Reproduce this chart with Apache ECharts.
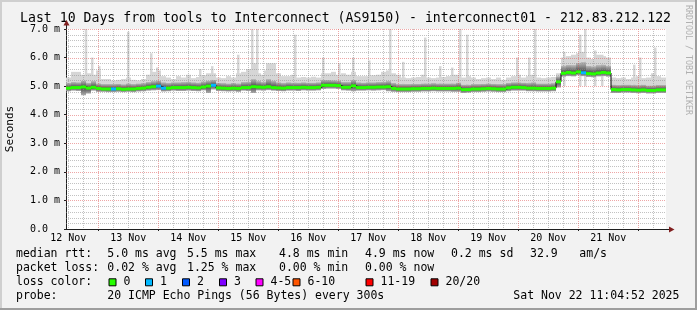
<!DOCTYPE html>
<html><head><meta charset="utf-8">
<script src="https://cdn.jsdelivr.net/npm/echarts@6/dist/echarts.min.js"></script>
<style>html,body{margin:0;padding:0;background:#f2f2f2}#c{width:697px;height:310px}</style>
</head><body><div id="c"></div>
<script>
// ---- data (hours since Nov 12 11:04:52, 2-hour buckets) ----
const bucketHours = 2;
const dayLabels = ['12 Nov','13 Nov','14 Nov','15 Nov','16 Nov','17 Nov','18 Nov','19 Nov','20 Nov','21 Nov'];
const labelHours = [0.92,24.92,48.92,72.92,96.92,120.92,144.92,168.92,192.92,216.92];
const midnightHours = [12.92,36.92,60.92,84.92,108.92,132.92,156.92,180.92,204.92,228.92];
const yTicks = [0,1,2,3,4,5,6,7];

const medianRtt = [
 4.93,4.95,4.95,4.97,4.93,4.96,4.92,4.90,4.90,4.90,
 4.91,4.89,4.90,4.90,4.92,4.93,4.96,4.98,5.00,4.93,
 4.93,4.95,4.95,4.95,4.96,4.95,4.94,4.97,5.00,5.03,
 4.94,4.93,4.92,4.93,4.92,4.95,4.95,4.98,4.97,4.96,
 4.98,4.95,4.94,4.93,4.95,4.95,4.95,4.96,4.95,4.95,
 4.96,5.03,5.03,5.03,5.02,4.96,4.96,5.01,4.95,4.95,
 4.96,4.96,4.97,4.97,4.98,4.92,4.90,4.90,4.90,4.91,
 4.91,4.92,4.92,4.93,4.92,4.92,4.92,4.92,4.93,4.88,
 4.88,4.90,4.90,4.91,4.92,4.91,4.90,4.90,4.94,4.96,
 4.96,4.95,4.93,4.93,4.92,4.92,4.92,4.93,5.15,5.45,
 5.48,5.46,5.50,5.47,5.44,5.43,5.46,5.48,5.46,4.88,
 4.87,4.88,4.88,4.87,4.86,4.87,4.85,4.85,4.87,4.87];
const smokeMin = [
 4.82,4.84,4.83,4.68,4.74,4.84,4.80,4.80,4.79,4.79,
 4.80,4.79,4.80,4.79,4.81,4.82,4.84,4.85,4.86,4.81,
 4.82,4.84,4.83,4.83,4.84,4.83,4.82,4.85,4.76,4.88,
 4.83,4.82,4.81,4.82,4.80,4.84,4.83,4.76,4.85,4.84,
 4.86,4.84,4.83,4.82,4.84,4.84,4.83,4.85,4.84,4.84,
 4.85,4.90,4.91,4.91,4.90,4.85,4.84,4.82,4.84,4.84,
 4.85,4.84,4.85,4.86,4.82,4.80,4.79,4.79,4.79,4.80,
 4.80,4.81,4.81,4.82,4.81,4.81,4.81,4.80,4.80,4.76,
 4.77,4.79,4.79,4.80,4.81,4.80,4.79,4.79,4.82,4.84,
 4.84,4.84,4.82,4.82,4.81,4.81,4.81,4.82,4.95,5.33,
 5.35,5.34,5.38,5.35,5.32,5.31,5.34,5.35,5.33,4.76,
 4.76,4.77,4.77,4.76,4.75,4.76,4.74,4.74,4.76,4.76];
const smokeMid = [
 5.12,5.15,5.14,5.20,5.12,5.18,5.10,5.08,5.08,5.08,
 5.09,5.07,5.10,5.08,5.10,5.11,5.15,5.18,5.20,5.14,
 5.12,5.14,5.14,5.15,5.16,5.14,5.13,5.17,5.20,5.22,
 5.12,5.11,5.10,5.12,5.10,5.15,5.16,5.25,5.18,5.15,
 5.25,5.20,5.14,5.12,5.14,5.13,5.13,5.14,5.13,5.13,
 5.14,5.22,5.22,5.21,5.20,5.15,5.15,5.22,5.14,5.13,
 5.14,5.14,5.15,5.16,5.18,5.12,5.08,5.08,5.08,5.09,
 5.09,5.10,5.10,5.11,5.10,5.10,5.10,5.10,5.13,5.06,
 5.06,5.08,5.08,5.09,5.10,5.09,5.08,5.08,5.12,5.14,
 5.14,5.13,5.12,5.14,5.10,5.10,5.10,5.11,5.35,5.72,
 5.75,5.74,5.82,5.85,5.72,5.70,5.74,5.76,5.72,5.06,
 5.05,5.06,5.06,5.05,5.04,5.06,5.03,5.03,5.05,5.05];
const smokeMax = [
 5.30,5.50,5.50,5.40,5.45,5.40,5.55,5.25,5.25,5.20,
 5.22,5.25,5.30,5.22,5.20,5.25,5.40,5.50,5.55,5.35,
 5.30,5.25,5.35,5.30,5.40,5.28,5.32,5.38,5.45,5.45,
 5.30,5.28,5.35,5.30,5.45,5.50,5.60,5.80,5.45,5.40,
 5.80,5.80,5.45,5.35,5.35,5.40,5.30,5.32,5.30,5.33,
 5.30,5.45,5.45,5.50,5.40,5.45,5.40,5.50,5.35,5.35,
 5.35,5.38,5.40,5.50,5.55,5.45,5.40,5.30,5.28,5.30,
 5.32,5.40,5.30,5.28,5.30,5.32,5.35,5.40,5.40,5.30,
 5.35,5.30,5.25,5.28,5.30,5.25,5.30,5.22,5.30,5.35,
 5.40,5.30,5.35,5.40,5.30,5.28,5.30,5.32,5.45,6.00,
 6.05,6.10,6.15,6.20,6.00,5.95,6.10,6.05,6.00,5.30,
 5.28,5.30,5.25,5.30,5.35,5.28,5.30,5.45,5.35,5.30];
// isolated tall pings: [hour, top value]
const spikes = [[7.5,7.0],[10,6.0],[12.8,5.7],[24.4,6.9],[33.6,6.15],[36,5.65],[53.2,5.6],[58,5.7],
 [68.4,6.1],[74,7.0],[76,7.0],[79.2,5.55],[91.2,6.8],[102.4,6.0],[108.8,5.8],[114.4,6.0],[120.8,5.9],
 [129.2,7.0],[134.4,5.85],[143.2,6.7],[149.2,5.7],[154,5.65],[157.2,7.0],[160,6.8],[180,6.0],
 [184.8,6.0],[187.2,7.0],[198.8,6.2],[205.2,6.8],[207.2,7.0],[211.2,6.25],[214,6.1],[226.8,5.75],
 [229.2,6.0],[235.2,6.35]];
// buckets where 1 of 20 pings was lost
const lossOneBuckets = [9,18,19,29,103];

const lossColors = ['#26ff00','#00b8ff','#0059ff','#7e00ff','#ff00ff','#ff5500','#ff0000','#a10000'];
const lossLabels = ['0','1','2','3','4-5','6-10','11-19','20/20'];
const lossBoxX = [109,145.5,182.5,219.5,256,293,366,431];

const FONT = '"DejaVu Sans Mono", monospace';
const chart = echarts.init(document.getElementById('c'), null, {renderer:'canvas'});

const totalHours = medianRtt.length * bucketHours;
const minorV = [];
for (let h = labelHours[0]; h < totalHours; h += 6) {
  if (!midnightHours.some(m => Math.abs(m - h) < 0.01)) minorV.push(h);
}
const hGrid = [];
for (let k = 1; k <= 35; k++) hGrid.push([k / 5, k % 5 === 0 ? 1 : 0]);
const vGrid = minorV.map(h => [h, 0]).concat(midnightHours.map(h => [h, 1]));

const MAJOR = 'rgba(222,79,79,0.5)', MINOR = 'rgba(143,143,143,0.55)';

function gridRender(isVertical) {
  return function (params, api) {
    const cs = params.coordSys;
    const v = api.value(0), major = api.value(1);
    let shape;
    if (isVertical) {
      const x = Math.round(api.coord([v, 0])[0]) + 0.5;
      shape = {x1: x, y1: cs.y, x2: x, y2: cs.y + cs.height};
    } else {
      const y = Math.round(api.coord([0, v])[1]) + 0.5;
      shape = {x1: cs.x, y1: y, x2: cs.x + cs.width, y2: y};
    }
    return {type: 'line', shape, style: {stroke: major ? MAJOR : MINOR, lineWidth: 1, lineDash: [1, 1]}};
  };
}

const medLine = medianRtt.map((m, i) => [i * bucketHours, m]);
medLine.push([totalHours, medianRtt[medianRtt.length - 1]]);

const texts = [];
function T(x, y, s, size, color, extra) {
  texts.push(Object.assign({type: 'text', x, y, silent: true,
    style: Object.assign({text: s, font: (size || 11.5) + 'px ' + FONT, fill: color || '#000',
      verticalAlign: 'middle', textVerticalAlign: 'middle'}, {})}, extra || {}));
}
// title
T(20, 18.5, 'Last 10 Days from tools to Interconnect (AS9150) - interconnect01 - 212.83.212.122', 13.2);
// legend rows
const r1 = 254.5, r2 = 268.3, r3 = 282.3, r4 = 296.2;
T(16, r1, 'median rtt:'); T(107.3, r1, '5.0 ms avg'); T(187, r1, '5.5 ms max'); T(279, r1, '4.8 ms min');
T(365, r1, '4.9 ms now'); T(451, r1, '0.2 ms sd'); T(530, r1, '32.9'); T(579.3, r1, 'am/s');
T(16, r2, 'packet loss:'); T(107.3, r2, '0.02 % avg'); T(187, r2, '1.25 % max'); T(279, r2, '0.00 % min');
T(365, r2, '0.00 % now');
T(16, r3, 'loss color:');
lossLabels.forEach((l, i) => T(lossBoxX[i] + 14.5, r3, l));
T(16, r4, 'probe:'); T(107.3, r4, '20 ICMP Echo Pings (56 Bytes) every 300s');
T(513.3, r4, 'Sat Nov 22 11:04:52 2025');
// watermark
texts.push({type: 'text', x: 688, y: 5, rotation: -Math.PI / 2, silent: true,
  style: {text: 'RRDTOOL / TOBI OETIKER', font: '8.3px ' + FONT, fill: '#b0b0b0',
    verticalAlign: 'middle', textVerticalAlign: 'middle'}});

const boxes = lossColors.map((c, i) => ({type: 'rect', silent: true,
  shape: {x: lossBoxX[i], y: r3 - 3.5, width: 7, height: 7},
  style: {fill: c, stroke: '#000', lineWidth: 1}}));

const frame = [
  {type: 'rect', shape: {x: 0, y: 0, width: 697, height: 2}, style: {fill: '#cfcfcf'}, silent: true},
  {type: 'rect', shape: {x: 0, y: 0, width: 2, height: 310}, style: {fill: '#cfcfcf'}, silent: true},
  {type: 'rect', shape: {x: 0, y: 308, width: 697, height: 2}, style: {fill: '#9e9e9e'}, silent: true},
  {type: 'rect', shape: {x: 695, y: 0, width: 2, height: 310}, style: {fill: '#9e9e9e'}, silent: true},
  // axis extensions and arrows
  {type: 'line', shape: {x1: 66.5, y1: 29, x2: 66.5, y2: 24}, style: {stroke: '#1f1f1f', lineWidth: 1}, silent: true, z: 50},
  {type: 'polygon', shape: {points: [[63.5, 25.5], [69.5, 25.5], [66.5, 20]]}, style: {fill: '#801f1f'}, silent: true, z: 50},
  {type: 'line', shape: {x1: 666, y1: 229.5, x2: 670, y2: 229.5}, style: {stroke: '#1f1f1f', lineWidth: 1}, silent: true, z: 50},
  {type: 'polygon', shape: {points: [[669, 226.5], [669, 232.5], [674.5, 229.5]]}, style: {fill: '#801f1f'}, silent: true, z: 50}
];

chart.setOption({
  animation: false,
  backgroundColor: '#f2f2f2',
  grid: {left: 66, top: 29, width: 600, height: 200, show: true, backgroundColor: '#ffffff', borderWidth: 0,
    containLabel: false, outerBoundsMode: 'none'},
  xAxis: {
    type: 'value', min: 0, max: totalHours,
    axisLine: {show: true, onZero: false, lineStyle: {color: '#1f1f1f', width: 1}},
    axisTick: {show: true, customValues: midnightHours, length: 2, lineStyle: {color: '#1f1f1f'}},
    axisLabel: {customValues: labelHours, fontFamily: FONT, fontSize: 10, color: '#000', margin: 4,
      formatter: v => dayLabels[Math.round((v - labelHours[0]) / 24)] || ''},
    splitLine: {show: false}
  },
  yAxis: {
    type: 'value', min: 0, max: 7, interval: 1,
    name: 'Seconds', nameLocation: 'middle', nameGap: 50, nameRotate: 90,
    nameTextStyle: {fontFamily: FONT, fontSize: 11, color: '#000'},
    axisLine: {show: true, lineStyle: {color: '#1f1f1f', width: 1}},
    axisTick: {show: true, length: 2, lineStyle: {color: '#1f1f1f'}},
    axisLabel: {fontFamily: FONT, fontSize: 10, color: '#000', align: 'left', margin: 36,
      formatter: v => v === 0 ? '0.0' : v.toFixed(1) + ' m'},
    splitLine: {show: false}
  },
  series: [
    { // isolated spikes
      type: 'custom', z: 1, silent: true, data: spikes, encode: {x: 0, y: 1},
      renderItem(params, api) {
        const h = api.value(0), top = api.value(1);
        const p0 = api.coord([h, 5.0]), p1 = api.coord([h + 1, top]);
        return {type: 'rect', shape: {x: p0[0], y: p1[1], width: p1[0] - p0[0], height: p0[1] - p1[1]},
          style: {fill: '#d6d6d6'}};
      }
    },
    { // smoke
      type: 'custom', z: 2, silent: true,
      data: medianRtt.map((m, i) => [i * bucketHours, smokeMin[i], m, smokeMid[i], smokeMax[i]]),
      encode: {x: 0, y: [1, 4]},
      renderItem(params, api) {
        const h = api.value(0);
        const x0 = api.coord([h, 0])[0], x1 = api.coord([h + bucketHours, 0])[0];
        const y = v => api.coord([h, v])[1];
        const yLo = y(api.value(1)), yMed = y(api.value(2)), yMid = y(api.value(3)), yHi = y(api.value(4));
        const w = x1 - x0;
        return {type: 'group', children: [
          {type: 'rect', shape: {x: x0, y: yHi, width: w, height: yMid - yHi}, style: {fill: '#d6d6d6'}},
          {type: 'rect', shape: {x: x0, y: yMid, width: w, height: yMed - yMid},
            style: {fill: new echarts.graphic.LinearGradient(0, 0, 0, 1, [{offset: 0, color: '#bdbdbd'}, {offset: 1, color: '#444444'}])}},
          {type: 'rect', shape: {x: x0, y: yMed, width: w, height: yLo - yMed},
            style: {fill: new echarts.graphic.LinearGradient(0, 0, 0, 1, [{offset: 0, color: '#444444'}, {offset: 1, color: '#b0b0b0'}])}}
        ]};
      }
    },
    {type: 'custom', z: 3, silent: true, data: hGrid, renderItem: gridRender(false), encode: {y: 0}},
    {type: 'custom', z: 3, silent: true, data: vGrid, renderItem: gridRender(true), encode: {x: 0}},
    { // median connectors
      type: 'line', z: 4, silent: true, step: 'end', symbol: 'none', data: medLine,
      lineStyle: {color: '#000', width: 1}
    },
    { // median coloured by loss
      type: 'custom', z: 5, silent: true,
      data: medianRtt.map((m, i) => [i * bucketHours, m, lossOneBuckets.includes(i) ? 1 : 0]),
      encode: {x: 0, y: 1},
      renderItem(params, api) {
        const h = api.value(0), m = api.value(1), loss = api.value(2);
        const p0 = api.coord([h, m]), p1 = api.coord([h + bucketHours, m]);
        return {type: 'rect', shape: {x: p0[0], y: p0[1] - 1.5, width: p1[0] - p0[0], height: 3},
          style: {fill: lossColors[loss]}};
      }
    }
  ],
  graphic: {elements: frame.concat(texts, boxes)}
});
</script>
</body></html>
